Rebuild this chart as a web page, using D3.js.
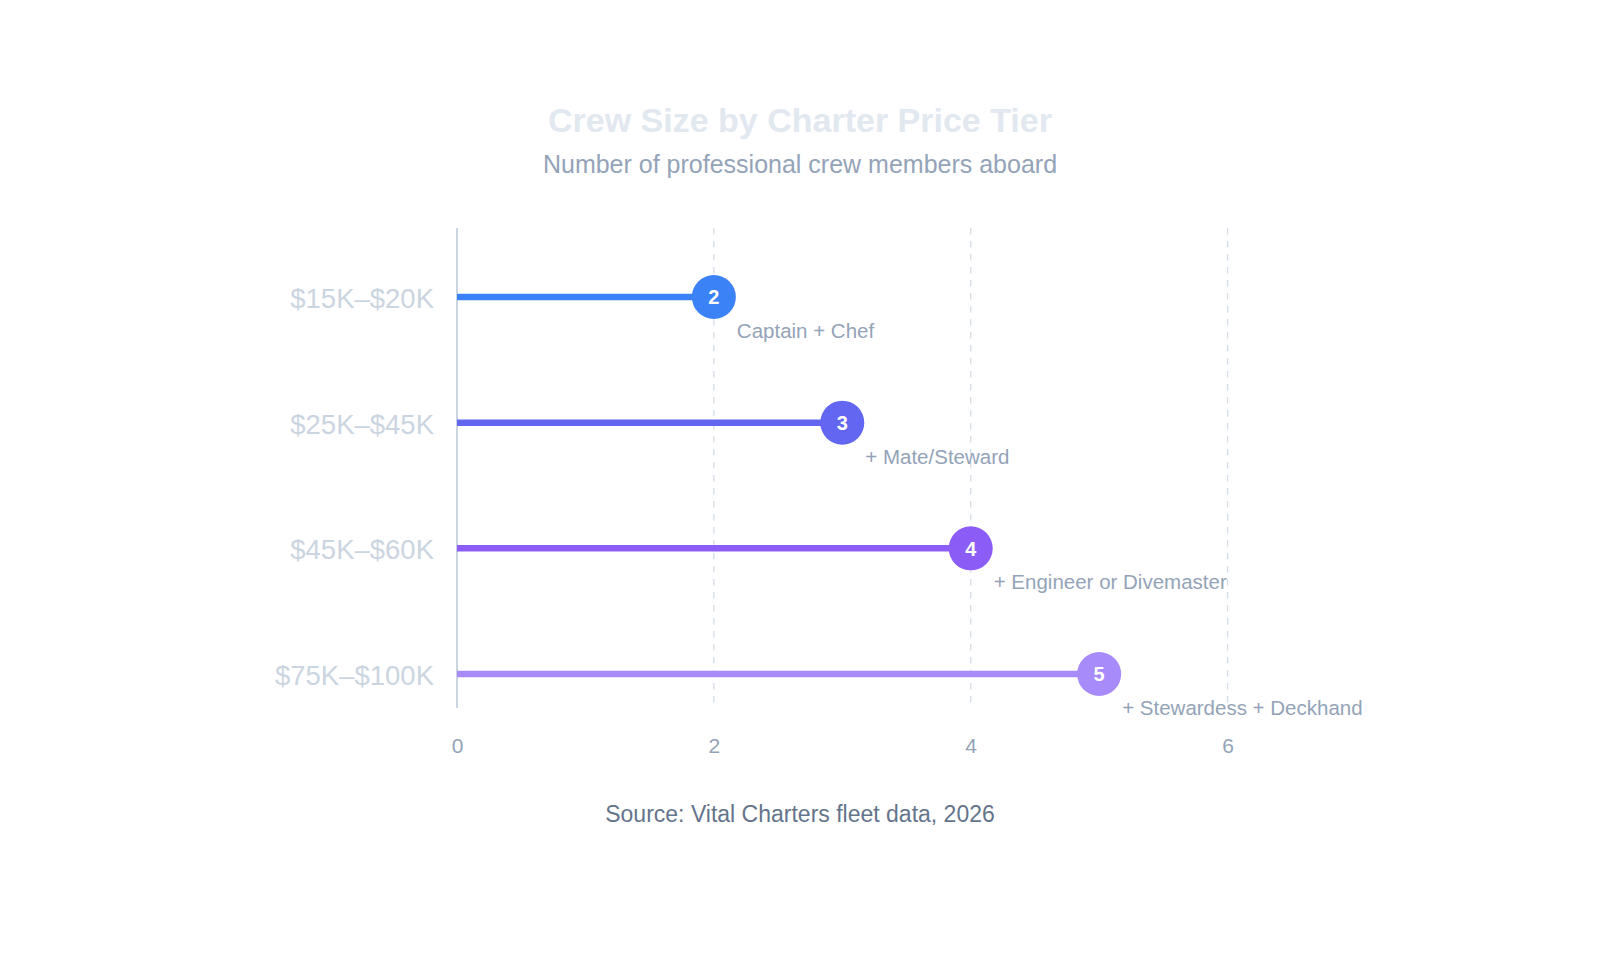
<!DOCTYPE html>
<html>
<head>
<meta charset="utf-8">
<script src="https://cdn.jsdelivr.net/npm/d3@7"></script>
<style>
  html, body { margin: 0; padding: 0; background: #ffffff; }
  svg { display: block; font-family: "Liberation Sans", Arial, Helvetica, sans-serif; }
</style>
</head>
<body>
<div id="chart"></div>
<script>
// data
const tiers = ["$15K–$20K", "$25K–$45K", "$45K–$60K", "$75K–$100K"];
const crew = [2, 3, 4, 5];
const notes = ["Captain + Chef", "+ Mate/Steward", "+ Engineer or Divemaster", "+ Stewardess + Deckhand"];
const colors = ["#3b82f6", "#6366f1", "#8b5cf6", "#a78bfa"];
const xTicks = [0, 2, 4, 6];

const W = 1600, H = 960;
const margin = {top: 228, right: 244, bottom: 252, left: 457};
const innerW = W - margin.left - margin.right,
    innerH = H - margin.top - margin.bottom;

const svg = d3.select("#chart").append("svg")
    .attr("width", W)
    .attr("height", H);

// titel
svg.append("text")
    .attr("x", W / 2).attr("y", 132)
    .attr("text-anchor", "middle")
    .attr("font-size", 34).attr("font-weight", "bold")
    .attr("fill", "#e2e8f0")
    .text("Crew Size by Charter Price Tier");

svg.append("text")
    .attr("x", W / 2).attr("y", 173)
    .attr("text-anchor", "middle")
    .attr("font-size", 25)
    .attr("fill", "#94a3b8")
    .text("Number of professional crew members aboard");

const g = svg.append("g").attr("transform", "translate(" + margin.left + "," + margin.top + ")");

const x = d3.scaleLinear().domain([0, 7]).range([0, innerW]);
const y = d3.scalePoint().domain(tiers).range([69, innerH - 34]);

// grid
g.append("g")
    .selectAll("line")
    .data(xTicks.filter(d => d > 0))
    .join("line")
    .attr("x1", d => x(d)).attr("x2", d => x(d))
    .attr("y1", 0).attr("y2", innerH)
    .attr("stroke", "#cbd5e1")
    .attr("stroke-width", 1.3)
    .attr("stroke-dasharray", "6.5,6.5")
    .attr("opacity", 0.8);

// x-achse
const xAxis = g.append("g")
    .attr("transform", "translate(0," + innerH + ")")
    .call(d3.axisBottom(x).tickValues(xTicks).tickFormat(d3.format("d")).tickSize(0).tickPadding(30));
xAxis.select(".domain").remove();
xAxis.selectAll("text")
    .attr("font-size", 21)
    .attr("fill", "#94a3b8")
    .attr("font-family", null);

// y-achse
const yAxis = g.append("g")
    .call(d3.axisLeft(y).tickSize(0).tickPadding(23));
yAxis.select(".domain").remove();
yAxis.selectAll("text")
    .attr("font-size", 27.5)
    .attr("dy", "0.38em")
    .attr("fill", "#cbd5e1")
    .attr("font-family", null);

g.append("line")
    .attr("x1", 0).attr("x2", 0)
    .attr("y1", 0).attr("y2", innerH)
    .attr("stroke", "#cbd5e1")
    .attr("stroke-width", 2);

const rows = tiers.map((t, i) => ({tier: t, value: crew[i], note: notes[i], color: colors[i]}));

// stiele
g.selectAll(".stem")
    .data(rows)
    .join("line")
    .attr("class", "stem")
    .attr("x1", x(0))
    .attr("x2", d => x(d.value))
    .attr("y1", d => y(d.tier))
    .attr("y2", d => y(d.tier))
    .attr("stroke", d => d.color)
    .attr("stroke-width", 6.5);

g.selectAll(".dot")
    .data(rows)
    .join("circle")
    .attr("class", "dot")
    .attr("cx", d => x(d.value))
    .attr("cy", d => y(d.tier))
    .attr("r", 22)
    .attr("fill", d => d.color);

g.selectAll(".num")
    .data(rows)
    .join("text")
    .attr("class", "num")
    .attr("x", d => x(d.value))
    .attr("y", d => y(d.tier))
    .attr("dy", "0.36em")
    .attr("text-anchor", "middle")
    .attr("font-size", 20)
    .attr("font-weight", "bold")
    .attr("fill", "#ffffff")
    .text(d => d.value);

g.selectAll(".note")
    .data(rows)
    .join("text")
    .attr("class", "note")
    .attr("x", d => x(d.value) + 23)
    .attr("y", d => y(d.tier) + 41)
    .attr("font-size", 20.5)
    .attr("fill", "#94a3b8")
    .text(d => d.note);

// quelle
svg.append("text")
    .attr("x", W / 2).attr("y", 822)
    .attr("text-anchor", "middle")
    .attr("font-size", 23)
    .attr("fill", "#64748b")
    .text("Source: Vital Charters fleet data, 2026");
</script>
</body>
</html>
